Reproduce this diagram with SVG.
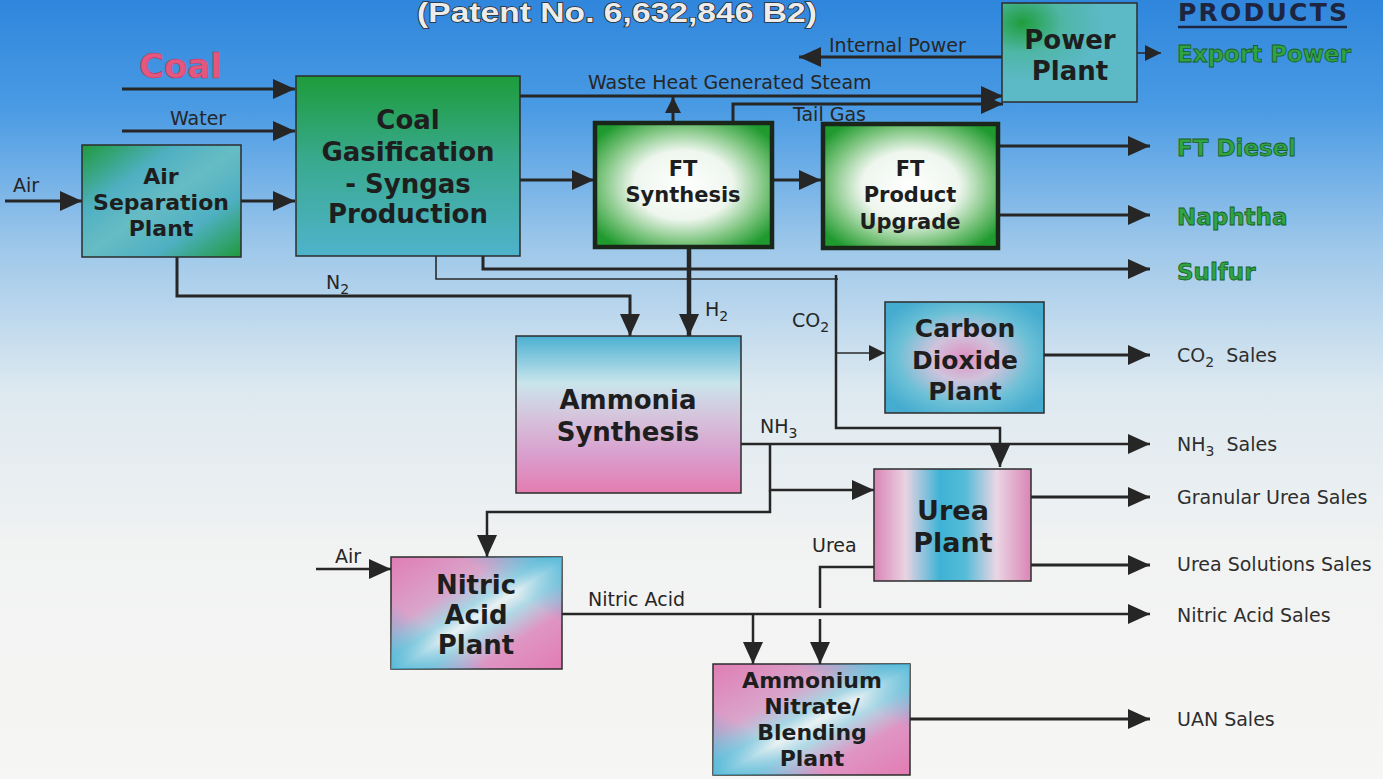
<svg xmlns="http://www.w3.org/2000/svg" width="1383" height="779" viewBox="0 0 1383 779">
<defs>
  <linearGradient id="bg" x1="0" y1="0" x2="0" y2="1">
    <stop offset="0" stop-color="#2f86dc"/>
    <stop offset="0.14" stop-color="#4a9be4"/>
    <stop offset="0.32" stop-color="#9fc8ea"/>
    <stop offset="0.5" stop-color="#dde9f0"/>
    <stop offset="0.7" stop-color="#f1f2f2"/>
    <stop offset="1" stop-color="#f6f6f4"/>
  </linearGradient>
  <linearGradient id="gtDiag" x1="0" y1="0" x2="1" y2="1">
    <stop offset="0" stop-color="#1f9a3c"/>
    <stop offset="0.3" stop-color="#4fb0c2"/>
    <stop offset="0.5" stop-color="#67bcc4"/>
    <stop offset="0.72" stop-color="#4fb0c2"/>
    <stop offset="1" stop-color="#1f9a3c"/>
  </linearGradient>
  <linearGradient id="gtVert" x1="0" y1="0" x2="0" y2="1">
    <stop offset="0" stop-color="#1d9c3a"/>
    <stop offset="0.45" stop-color="#38a98c"/>
    <stop offset="1" stop-color="#4fb3cc"/>
  </linearGradient>
  <radialGradient id="ftGlow" cx="0.5" cy="0.5" r="0.62">
    <stop offset="0" stop-color="#ffffff"/>
    <stop offset="0.45" stop-color="#eef6ee"/>
    <stop offset="0.75" stop-color="#7cc47e"/>
    <stop offset="1" stop-color="#1f9a2e"/>
  </radialGradient>
  <radialGradient id="powerFill" cx="0.15" cy="0.2" r="0.6">
    <stop offset="0" stop-color="#1f9e3c"/>
    <stop offset="0.5" stop-color="#4fb6a6"/>
    <stop offset="1" stop-color="#5cb9c6"/>
  </radialGradient>
  <radialGradient id="co2Fill" cx="0.5" cy="0.5" r="0.6">
    <stop offset="0" stop-color="#de8fc0"/>
    <stop offset="0.35" stop-color="#cfc3dc"/>
    <stop offset="0.7" stop-color="#6cc0d6"/>
    <stop offset="1" stop-color="#45acd0"/>
  </radialGradient>
  <linearGradient id="ammFill" x1="0" y1="0" x2="0" y2="1">
    <stop offset="0" stop-color="#4bb0d2"/>
    <stop offset="0.3" stop-color="#c9e5ec"/>
    <stop offset="0.5" stop-color="#d5c6dc"/>
    <stop offset="0.75" stop-color="#d9a0cf"/>
    <stop offset="1" stop-color="#e47cb1"/>
  </linearGradient>
  <linearGradient id="ureaFill" x1="0" y1="0" x2="1" y2="0">
    <stop offset="0" stop-color="#d985b6"/>
    <stop offset="0.2" stop-color="#e9d3e2"/>
    <stop offset="0.42" stop-color="#3fb3d5"/>
    <stop offset="0.58" stop-color="#55bcd8"/>
    <stop offset="0.78" stop-color="#ead6e4"/>
    <stop offset="1" stop-color="#d985b6"/>
  </linearGradient>
  <linearGradient id="ptDiag" x1="0" y1="0" x2="1" y2="1">
    <stop offset="0" stop-color="#e07db4"/>
    <stop offset="0.32" stop-color="#d9a5cb"/>
    <stop offset="0.45" stop-color="#a6d6e4"/>
    <stop offset="0.52" stop-color="#e9f1f3"/>
    <stop offset="0.6" stop-color="#b0d9e6"/>
    <stop offset="0.75" stop-color="#df95c4"/>
    <stop offset="1" stop-color="#e27cb3"/>
  </linearGradient>
  <linearGradient id="ptCorner" x1="1" y1="0" x2="0" y2="1">
    <stop offset="0" stop-color="#3fb1d4" stop-opacity="0.85"/>
    <stop offset="0.3" stop-color="#3fb1d4" stop-opacity="0"/>
    <stop offset="0.7" stop-color="#3fb1d4" stop-opacity="0"/>
    <stop offset="1" stop-color="#3fb1d4" stop-opacity="0.85"/>
  </linearGradient>
  <marker id="arr" markerUnits="userSpaceOnUse" markerWidth="24" markerHeight="22" refX="22" refY="10" orient="auto">
    <path d="M0,0 L22,10 L0,20 z" fill="#262626"/>
  </marker>
  <marker id="arrS" markerUnits="userSpaceOnUse" markerWidth="18" markerHeight="18" refX="16" refY="8" orient="auto">
    <path d="M0,0 L16,8 L0,16 z" fill="#262626"/>
  </marker>
  <style>
    .box { stroke: #2d2d2d; stroke-width: 1.5; }
    .ft { stroke: #1b261b; stroke-width: 4.5; fill: url(#ftGlow); }
    .nt { font-family: "DejaVu Sans", Verdana, sans-serif; font-weight: bold; fill: #1e1e1e; text-anchor: middle; }
    .lbl { font-family: "DejaVu Sans", Verdana, sans-serif; font-size: 19px; fill: #262626; }
    .out { font-family: "DejaVu Sans", Verdana, sans-serif; font-size: 19px; fill: #2e2e2e; }
    .prod { font-family: "DejaVu Sans", Verdana, sans-serif; font-weight: bold; font-size: 23px; fill: #2fa443; stroke: #1a5e26; stroke-width: 0.8; }
    .c { fill: none; stroke: #262626; stroke-width: 3; stroke-linejoin: miter; }
    .thin { fill: none; stroke: #2a2a2a; stroke-width: 1.6; }
  </style>
</defs>

<rect x="0" y="0" width="1383" height="779" fill="url(#bg)"/>

<text x="617" y="22" font-family="Liberation Sans, Arial, sans-serif" font-weight="bold" font-size="27" fill="#ececec" stroke="#2b2b2b" stroke-width="1.5" paint-order="stroke" text-anchor="middle" textLength="400" lengthAdjust="spacingAndGlyphs">(Patent No. 6,632,846 B2)</text>
<text x="1178" y="21" font-family="DejaVu Sans, Verdana, sans-serif" font-weight="bold" font-size="25" fill="#1d2540" textLength="169">PRODUCTS</text>
<line x1="1178" y1="27" x2="1347" y2="27" stroke="#1d2540" stroke-width="2.5"/>

<g id="connectors">
  <path class="c" d="M122,89 H295" marker-end="url(#arr)"/>
  <path class="c" d="M122,131 H295" marker-end="url(#arr)"/>
  <path class="c" d="M5,201 H82" marker-end="url(#arr)"/>
  <path class="c" d="M241,201 H295" marker-end="url(#arr)"/>
  <path class="c" d="M520,180 H594" marker-end="url(#arr)"/>
  <path class="c" d="M772,180 H821" marker-end="url(#arr)"/>
  <path class="c" d="M520,96 H1003" marker-end="url(#arr)"/>
  <path class="c" d="M673,122 V97" marker-end="url(#arrS)"/>
  <path class="c" d="M733,122 V104 H1003" marker-end="url(#arr)"/>
  <path class="c" d="M1002,57 H799" marker-end="url(#arr)"/>
  <path class="thin" d="M1137,53 H1161" marker-end="url(#arrS)"/>
  <path class="c" d="M998,146 H1150" marker-end="url(#arr)"/>
  <path class="c" d="M998,215 H1150" marker-end="url(#arr)"/>
  <path class="c" d="M483,256 V269 H1150" marker-end="url(#arr)"/>
  <path class="thin" d="M436,256 V279 H838"/>
  <path class="c" d="M836,275 V428 H1000 V467" style="stroke-width:2.5" marker-end="url(#arr)"/>
  <path class="thin" d="M836,353 H885" marker-end="url(#arrS)"/>
  <path class="c" d="M177,257 V296 H630 V336" marker-end="url(#arr)"/>
  <path class="c" d="M689,247 V336" style="stroke-width:4.5" marker-end="url(#arr)"/>
  <path class="c" d="M1044,355 H1150" marker-end="url(#arr)"/>
  <path class="c" d="M741,444 H1150" style="stroke-width:2.5" marker-end="url(#arr)"/>
  <path class="c" d="M770,444 V490 H874" style="stroke-width:2.5" marker-end="url(#arr)"/>
  <path class="c" d="M770,490 V512 H487 V557" style="stroke-width:2.5" marker-end="url(#arr)"/>
  <path class="c" d="M316,569 H391" style="stroke-width:2.5" marker-end="url(#arr)"/>
  <path class="c" d="M1031,497 H1150" marker-end="url(#arr)"/>
  <path class="c" d="M1031,565 H1150" marker-end="url(#arr)"/>
  <path class="c" d="M874,567 H820 V608 M820,619 V664" style="stroke-width:2.5" marker-end="url(#arr)"/>
  <path class="c" d="M562,614 H1150" style="stroke-width:2.5" marker-end="url(#arr)"/>
  <path class="c" d="M753,614 V664" style="stroke-width:2.5" marker-end="url(#arr)"/>
  <path class="c" d="M910,719 H1150" marker-end="url(#arr)"/>

  <text x="139" y="78" font-family="DejaVu Sans, Verdana, sans-serif" font-weight="bold" font-size="34" fill="#e5577f" stroke="#b83a63" stroke-width="0.6">Coal</text>
  <text class="lbl" x="170" y="125">Water</text>
  <text class="lbl" x="13" y="192">Air</text>
  <text class="lbl" x="588" y="89">Waste Heat Generated Steam</text>
  <text class="lbl" x="793" y="121">Tail Gas</text>
  <text class="lbl" x="829" y="52">Internal Power</text>
  <text class="lbl" x="326" y="289">N<tspan dy="5" font-size="14">2</tspan></text>
  <text class="lbl" x="705" y="316">H<tspan dy="5" font-size="14">2</tspan></text>
  <text class="lbl" x="792" y="327">CO<tspan dy="5" font-size="14">2</tspan></text>
  <text class="lbl" x="760" y="433">NH<tspan dy="5" font-size="14">3</tspan></text>
  <text class="lbl" x="335" y="563">Air</text>
  <text class="lbl" x="812" y="552">Urea</text>
  <text class="lbl" x="588" y="606">Nitric Acid</text>

  <text class="prod" x="1177" y="62">Export Power</text>
  <text class="prod" x="1177" y="156">FT Diesel</text>
  <text class="prod" x="1177" y="225">Naphtha</text>
  <text class="prod" x="1177" y="280">Sulfur</text>
  <text class="out" x="1177" y="362">CO<tspan dy="5" font-size="14">2</tspan><tspan dy="-5" xml:space="preserve">  Sales</tspan></text>
  <text class="out" x="1177" y="451">NH<tspan dy="5" font-size="14">3</tspan><tspan dy="-5" xml:space="preserve">  Sales</tspan></text>
  <text class="out" x="1177" y="504">Granular Urea Sales</text>
  <text class="out" x="1177" y="571">Urea Solutions Sales</text>
  <text class="out" x="1177" y="622">Nitric Acid Sales</text>
  <text class="out" x="1177" y="726">UAN Sales</text>
</g>

<g id="air-separation">
  <rect class="box" x="82" y="145" width="159" height="112" fill="url(#gtDiag)"/>
  <text class="nt" font-size="22" x="161" y="184">Air</text>
  <text class="nt" font-size="22" x="161" y="210">Separation</text>
  <text class="nt" font-size="22" x="161" y="236">Plant</text>
</g>

<g id="coal-gasification">
  <rect class="box" x="296" y="76" width="224" height="180" fill="url(#gtVert)"/>
  <text class="nt" font-size="26" x="408" y="129">Coal</text>
  <text class="nt" font-size="26" x="408" y="161">Gasification</text>
  <text class="nt" font-size="26" x="408" y="193">- Syngas</text>
  <text class="nt" font-size="26" x="408" y="223">Production</text>
</g>

<g id="ft-synthesis">
  <rect class="ft" x="595" y="123" width="177" height="124"/>
  <text class="nt" font-size="21" x="683" y="176">FT</text>
  <text class="nt" font-size="21" x="683" y="202">Synthesis</text>
</g>

<g id="ft-upgrade">
  <rect class="ft" x="823" y="124" width="175" height="124"/>
  <text class="nt" font-size="21" x="910" y="176">FT</text>
  <text class="nt" font-size="21" x="910" y="202">Product</text>
  <text class="nt" font-size="21" x="910" y="229">Upgrade</text>
</g>

<g id="power-plant">
  <rect class="box" x="1002" y="3" width="135" height="99" fill="url(#powerFill)"/>
  <text class="nt" font-size="26" x="1070" y="49">Power</text>
  <text class="nt" font-size="26" x="1070" y="80">Plant</text>
</g>

<g id="co2-plant">
  <rect class="box" x="885" y="302" width="159" height="111" fill="url(#co2Fill)"/>
  <text class="nt" font-size="25" x="965" y="337">Carbon</text>
  <text class="nt" font-size="25" x="965" y="369">Dioxide</text>
  <text class="nt" font-size="25" x="965" y="400">Plant</text>
</g>

<g id="ammonia-synthesis">
  <rect class="box" x="516" y="336" width="225" height="157" fill="url(#ammFill)"/>
  <text class="nt" font-size="26" x="628" y="409">Ammonia</text>
  <text class="nt" font-size="26" x="628" y="441">Synthesis</text>
</g>

<g id="urea-plant">
  <rect class="box" x="874" y="469" width="157" height="112" fill="url(#ureaFill)"/>
  <text class="nt" font-size="27" x="953" y="520">Urea</text>
  <text class="nt" font-size="27" x="953" y="552">Plant</text>
</g>

<g id="nitric-acid">
  <rect class="box" x="391" y="557" width="171" height="112" fill="url(#ptDiag)"/>
  <rect x="391" y="557" width="171" height="112" fill="url(#ptCorner)"/>
  <text class="nt" font-size="26" x="476" y="594">Nitric</text>
  <text class="nt" font-size="26" x="476" y="624">Acid</text>
  <text class="nt" font-size="26" x="476" y="654">Plant</text>
</g>

<g id="ammonium-nitrate">
  <rect class="box" x="713" y="664" width="197" height="111" fill="url(#ptDiag)"/>
  <rect x="713" y="664" width="197" height="111" fill="url(#ptCorner)"/>
  <text class="nt" font-size="22" x="812" y="688">Ammonium</text>
  <text class="nt" font-size="22" x="812" y="714">Nitrate/</text>
  <text class="nt" font-size="22" x="812" y="740">Blending</text>
  <text class="nt" font-size="22" x="812" y="766">Plant</text>
</g>
</svg>
